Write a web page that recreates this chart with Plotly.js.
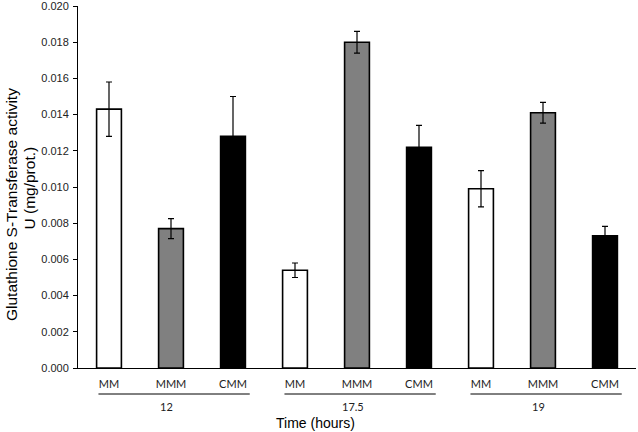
<!DOCTYPE html>
<html>
<head>
<meta charset="utf-8">
<script src="https://cdn.plot.ly/plotly-3.0.1.min.js"></script>
<style>html,body{margin:0;padding:0;background:#fff;}#chart{width:638px;height:432px;}</style>
</head>
<body>
<div id="chart"></div>
<script>
// ---- data ----
const groups = ['12', '17.5', '19'];
const treatments = ['MM', 'MMM', 'CMM'];
const mmValues  = [0.0143, 0.0054, 0.0099];
const mmErrors  = [0.0015, 0.0004, 0.0010];
const mmmValues = [0.0077, 0.0180, 0.0141];
const mmmErrors = [0.00055, 0.0006, 0.00057];
const cmmValues = [0.0128, 0.0122, 0.0073];
const cmmErrors = [0.0022, 0.0012, 0.00053];
const yTickVals = [0, 0.002, 0.004, 0.006, 0.008, 0.010, 0.012, 0.014, 0.016, 0.018, 0.020];
const yTitleLine1 = 'Glutathione S-Transferase activity';
const yTitleLine2 = 'U (mg/prot.)';
const xTitle = 'Time (hours)';

// ---- styles ----
const fills = ['#ffffff', '#808080', '#000000'];
const series = [
  {vals: mmValues, errs: mmErrors},
  {vals: mmmValues, errs: mmmErrors},
  {vals: cmmValues, errs: cmmErrors}
];
const nT = treatments.length;
const tickFont = {family: 'Lato, "Open Sans", sans-serif', size: 11, color: '#222'};
const arial = 'Arial, "Liberation Sans", sans-serif';

const traces = series.map((s, t) => ({
  type: 'bar',
  name: treatments[t],
  x: groups.map((g, i) => i * nT + t),
  y: s.vals,
  width: 0.4,
  marker: {color: fills[t], line: {color: '#000', width: 1.6}},
  error_y: {type: 'data', array: s.errs, visible: true, color: '#000', thickness: 1.2, width: 3},
  hoverinfo: 'skip'
}));

const tickVals = [];
const tickText = [];
groups.forEach((g, i) => treatments.forEach((tr, t) => { tickVals.push(i * nT + t); tickText.push(tr); }));

const H = 432, T = 6, B = 64;
const plotH = H - T - B;
const L = 78, R = 2, plotW = 638 - L - R;
const pyPaper = px => (H - B - px) / plotH;
const pxPaper = px => (px - L) / plotW;

const shapes = groups.map((g, i) => ({
  type: 'line', xref: 'x', yref: 'paper',
  x0: i * nT - 0.17, x1: i * nT + nT - 1 + 0.27,
  y0: pyPaper(394), y1: pyPaper(394),
  line: {color: '#000', width: 1}
}));

const annotations = groups.map((g, i) => ({
  xref: 'x', yref: 'paper', x: i * nT + 1, y: pyPaper(406.5),
  xshift: -4.5, text: g, showarrow: false, xanchor: 'center', yanchor: 'middle',
  font: tickFont
}));
annotations.push({
  xref: 'paper', yref: 'paper', x: pxPaper(315.5), y: pyPaper(422.5),
  text: xTitle, showarrow: false, xanchor: 'center', yanchor: 'middle',
  font: {family: arial, size: 14, color: '#000'}
});
annotations.push({
  xref: 'paper', yref: 'paper', x: pxPaper(11), y: pyPaper(205),
  text: yTitleLine1, textangle: -90, showarrow: false, xanchor: 'center', yanchor: 'middle',
  font: {family: arial, size: 15.5, color: '#000'}
});
annotations.push({
  xref: 'paper', yref: 'paper', x: pxPaper(29), y: pyPaper(188.5),
  text: yTitleLine2, textangle: -90, showarrow: false, xanchor: 'center', yanchor: 'middle',
  font: {family: arial, size: 15.5, color: '#000'}
});

const layout = {
  width: 638, height: 432,
  margin: {l: L, r: R, t: T, b: B, pad: 0},
  paper_bgcolor: '#fff', plot_bgcolor: '#fff',
  showlegend: false,
  barmode: 'overlay',
  xaxis: {
    range: [-0.5, groups.length * nT - 0.5],
    tickmode: 'array', tickvals: tickVals, ticktext: tickText,
    ticks: '', showline: true, linecolor: '#000', linewidth: 1,
    showgrid: false, zeroline: false, tickfont: tickFont,
    ticklabelstandoff: 6, fixedrange: true
  },
  yaxis: {
    range: [0, 0.0200001], tickmode: 'array', tickvals: yTickVals, tickformat: '.3f',
    ticks: 'outside', ticklen: 4, tickcolor: '#000', tickwidth: 1,
    showline: true, linecolor: '#000', linewidth: 1,
    showgrid: false, zeroline: false, ticklabelstandoff: 2,
    ticklabeloverflow: 'allow',
    tickfont: {family: arial, size: 11, color: '#222'},
    fixedrange: true
  },
  shapes: shapes,
  annotations: annotations
};

Plotly.newPlot('chart', traces, layout, {staticPlot: true, displayModeBar: false});
</script>
</body>
</html>
